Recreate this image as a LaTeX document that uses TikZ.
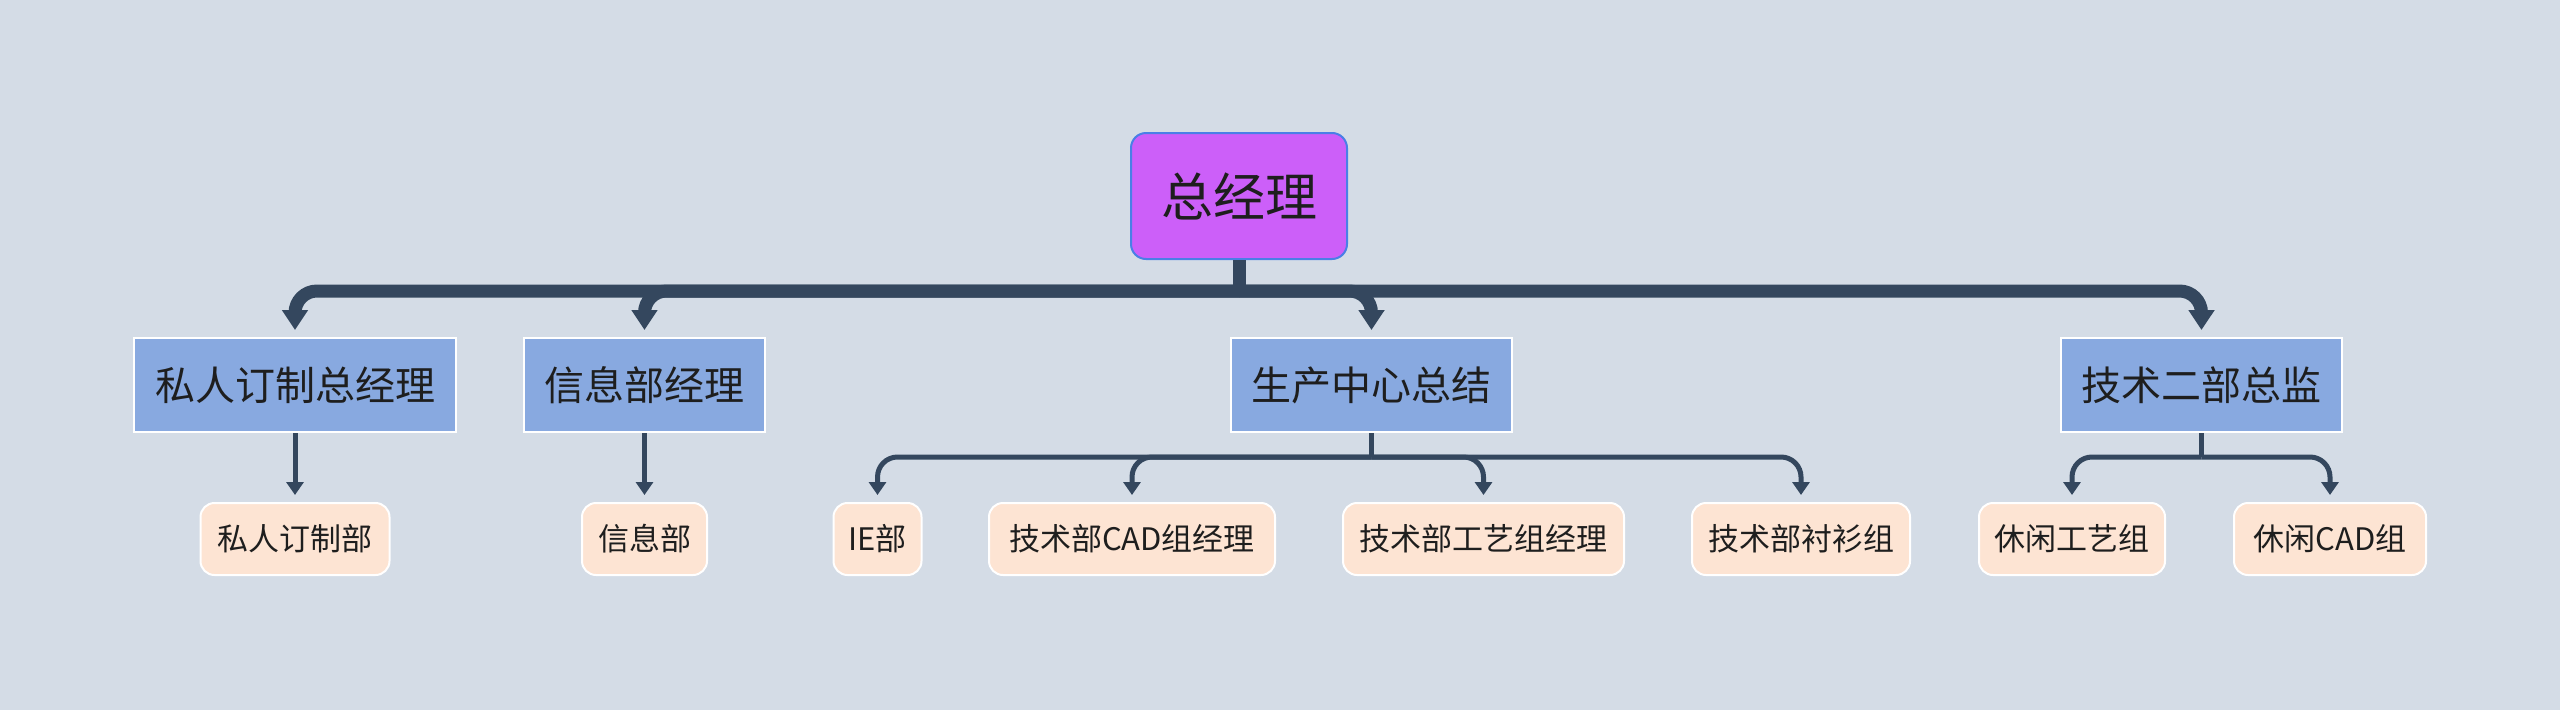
\documentclass[tikz,border=0pt]{standalone}
\usepackage{fontspec}
\newfontfamily\cjk{Noto Sans CJK SC}
\usetikzlibrary{arrows.meta}
\definecolor{bg}{HTML}{D4DCE6}
\definecolor{rootfill}{HTML}{CC5FF9}
\definecolor{rootborder}{HTML}{4A7FE6}
\definecolor{midfill}{HTML}{88A9E0}
\definecolor{leaffill}{HTML}{FDE4D3}
\definecolor{linec}{HTML}{34475E}
\definecolor{txt}{HTML}{1E1E1E}
\begin{document}
\begin{tikzpicture}[x=1pt,y=-1pt,
 rootbox/.style={draw=rootborder, line width=2pt, fill=rootfill, rounded corners=15pt, minimum width=216pt, minimum height=126pt, inner sep=0pt, font=\cjk\fontsize{52}{60}\selectfont, text=txt},
 midbox/.style={draw=white, line width=2pt, fill=midfill, minimum height=94pt, inner sep=0pt, font=\cjk\fontsize{40}{48}\selectfont, text=txt},
 leafbox/.style={draw=white, line width=2pt, fill=leaffill, rounded corners=14pt, minimum height=72pt, inner sep=0pt, font=\cjk\fontsize{31}{38}\selectfont, text=txt},
 mainline/.style={draw=linec, line width=13pt, rounded corners=22pt},
 mainarrow/.style={mainline, -{Triangle[width=25pt,length=20pt]}, shorten >=7pt},
 subline/.style={draw=linec, line width=5pt, rounded corners=20pt},
 subarrow/.style={subline, -{Triangle[width=17pt,length=13pt]}, shorten >=7pt},
]
\fill[bg] (0,0) rectangle (2560,710);
\useasboundingbox (0,0) rectangle (2560,710);

\node[rootbox] (root) at (1239,196) {总经理};

\node[midbox, minimum width=322pt] (m1) at (295,385) {私人订制总经理};
\node[midbox, minimum width=241pt] (m2) at (644.5,385) {信息部经理};
\node[midbox, minimum width=281pt] (m3) at (1371.5,385) {生产中心总结};
\node[midbox, minimum width=281pt] (m4) at (2201.5,385) {技术二部总监};

\node[leafbox, minimum width=189pt] (l1) at (295,539) {私人订制部};
\node[leafbox, minimum width=125pt] (l2) at (644.5,539) {信息部};
\node[leafbox, minimum width=88pt] (l3) at (877.5,539) {IE部};
\node[leafbox, minimum width=286pt] (l4) at (1132,539) {技术部CAD组经理};
\node[leafbox, minimum width=281pt] (l5) at (1483.5,539) {技术部工艺组经理};
\node[leafbox, minimum width=218pt] (l6) at (1801,539) {技术部衬衫组};
\node[leafbox, minimum width=186pt] (l7) at (2072,539) {休闲工艺组};
\node[leafbox, minimum width=192pt] (l8) at (2330,539) {休闲CAD组};

\coordinate (j0) at (1239,291);
\draw[mainline] (root.south) -- (j0);
\foreach \m in {m1,m2,m3,m4} \draw[mainarrow] (j0) -| (\m.north);

\draw[subarrow] (m1.south) -- (l1.north);
\draw[subarrow] (m2.south) -- (l2.north);

\coordinate (j3) at (1371.5,457);
\draw[subline] (m3.south) -- (j3);
\foreach \l in {l3,l4,l5,l6} \draw[subarrow] (j3) -| (\l.north);

\coordinate (j4) at (2201.5,457);
\draw[subline] (m4.south) -- (j4);
\foreach \l in {l7,l8} \draw[subarrow] (j4) -| (\l.north);
\end{tikzpicture}
\end{document}
